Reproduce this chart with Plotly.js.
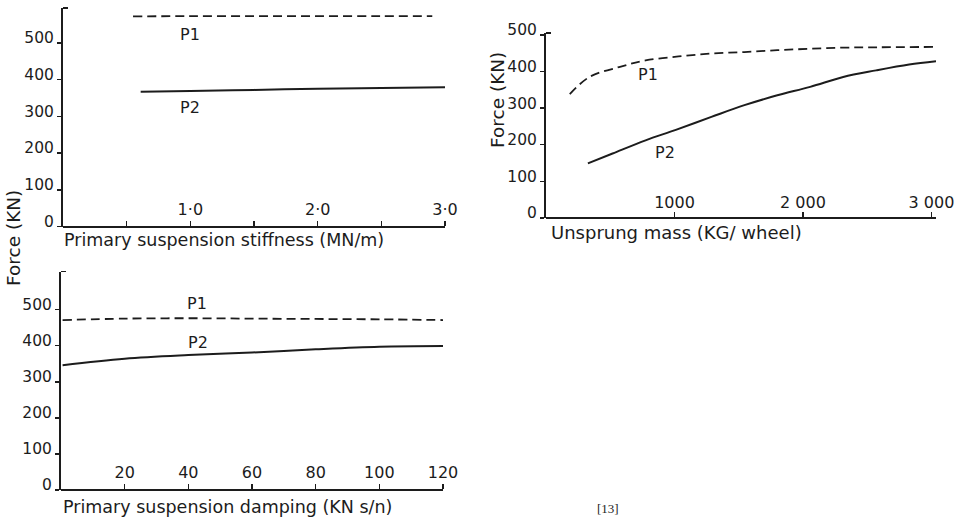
<!DOCTYPE html>
<html>
<head>
<meta charset="utf-8">
<script src="https://cdn.plot.ly/plotly-3.0.1.min.js"></script>
<style>html,body{margin:0;padding:0;background:#fff;}#chart{width:961px;height:519px;}</style>
</head>
<body>
<div id="chart"></div>
<script>
// Panel (a): primary suspension stiffness
const stiffnessP1X = [0.55, 1.0, 1.5, 2.0, 2.5, 2.9];
const stiffnessP1Y = [572, 573, 573, 573, 573, 573];
const stiffnessP2X = [0.61, 1.0, 1.5, 2.0, 2.5, 3.0];
const stiffnessP2Y = [367, 369, 372, 375, 377, 379];
const stiffnessTickVals = [0.5, 1.0, 1.5, 2.0, 2.5, 3.0];
const stiffnessTickText = ['', '1·0', '', '2·0', '', '3·0'];

// Panel (b): unsprung mass
const massP1X = [185, 338, 569, 775, 1031, 1287, 1544, 1800, 2056, 2313, 2569, 3035];
const massP1Y = [338, 385, 412, 430, 441, 449, 453, 458, 462, 465, 466, 467];
const massP2X = [326, 518, 775, 1005, 1287, 1544, 1800, 2056, 2313, 2569, 2826, 3035];
const massP2Y = [149, 176, 212, 240, 276, 308, 335, 358, 385, 403, 419, 428];
const massTickVals = [1000, 2000, 3000];
const massTickText = ['1000', '2 000', '3 000'];

// Panel (c): primary suspension damping
const dampingP1X = [0.5, 20, 40, 60, 80, 100, 120];
const dampingP1Y = [471, 475, 476, 475, 474, 473, 471];
const dampingP2X = [0.5, 20, 40, 60, 80, 100, 120];
const dampingP2Y = [346, 364, 374, 381, 390, 397, 399];
const dampingTickVals = [20, 40, 60, 80, 100, 120];

const forceTickVals = [0, 100, 200, 300, 400, 500];

const W = 961, H = 519;
const FONT = 'DejaVu Sans, sans-serif';
const INK = '#1c1c1c';
const px = v => v / W;
const py = v => 1 - v / H;

const dashed = {color: INK, width: 1.8, dash: '9px,5px', shape: 'spline'};
const solid = {color: INK, width: 2, shape: 'spline'};

const traces = [
  {x: stiffnessP1X, y: stiffnessP1Y, xaxis: 'x', yaxis: 'y', mode: 'lines', line: dashed, name: 'P1'},
  {x: stiffnessP2X, y: stiffnessP2Y, xaxis: 'x', yaxis: 'y', mode: 'lines', line: solid, name: 'P2'},
  {x: massP1X, y: massP1Y, xaxis: 'x2', yaxis: 'y2', mode: 'lines', line: dashed, name: 'P1'},
  {x: massP2X, y: massP2Y, xaxis: 'x2', yaxis: 'y2', mode: 'lines', line: solid, name: 'P2'},
  {x: dampingP1X, y: dampingP1Y, xaxis: 'x3', yaxis: 'y3', mode: 'lines', line: dashed, name: 'P1'},
  {x: dampingP2X, y: dampingP2Y, xaxis: 'x3', yaxis: 'y3', mode: 'lines', line: solid, name: 'P2'}
];

// x axes: line at the bottom of the panel, labels drawn above it (side 'top' on a free axis)
function xax(domain, range, vals, text, bottomPx, standoff) {
  return {
    domain: domain, range: range, anchor: 'free', position: py(bottomPx), side: 'top',
    showline: true, linecolor: INK, linewidth: 2,
    showgrid: false, zeroline: false,
    ticks: 'outside', ticklen: 5, tickwidth: 1.5, tickcolor: INK,
    tickmode: 'array', tickvals: vals, ticktext: text,
    ticklabelstandoff: standoff,
    tickfont: {family: FONT, size: 16, color: INK}
  };
}
function yax(domain, range, anchor) {
  return {
    domain: domain, range: range, anchor: anchor,
    showline: true, linecolor: INK, linewidth: 2,
    showgrid: false, zeroline: false,
    ticks: 'outside', ticklen: 4, tickwidth: 1.5, tickcolor: INK,
    tickmode: 'array', tickvals: forceTickVals,
    ticklabelstandoff: 0,
    ticklabelshift: -5,
    tickfont: {family: FONT, size: 15.5, color: INK},
    minor: {tickmode: 'array', tickvals: [range[1]], ticks: 'inside', ticklen: 5, tickwidth: 1.5, tickcolor: INK, showgrid: false}
  };
}

const ann = (text, x, y, opts) => Object.assign({
  text: text, xref: 'paper', yref: 'paper', x: px(x), y: py(y),
  showarrow: false, xanchor: 'center', yanchor: 'middle',
  font: {family: FONT, size: 16, color: INK}
}, opts || {});
const TITLE_FONT = {family: FONT, size: 17.5, color: INK};

const layout = {
  width: W, height: H,
  margin: {l: 0, r: 0, t: 0, b: 0},
  paper_bgcolor: '#ffffff', plot_bgcolor: 'rgba(0,0,0,0)',
  showlegend: false,
  xaxis: xax([px(63), px(445)], [0, 3.0], stiffnessTickVals, stiffnessTickText, 226.5, -1),
  yaxis: yax([py(226.5), py(8)], [0, 595], 'x'),
  xaxis2: xax([px(546), px(936)], [0, 3035], massTickVals, massTickText, 218, -2),
  yaxis2: yax([py(218), py(33)], [0, 505], 'x2'),
  xaxis3: xax([px(61), px(443)], [0, 120], dampingTickVals, dampingTickVals.map(String), 490, 0),
  yaxis3: yax([py(490), py(271.7)], [0, 605], 'x3'),
  annotations: [
    ann('P1', 190, 34),
    ann('P2', 190, 107),
    ann('P1', 648, 75),
    ann('P2', 665, 152),
    ann('P1', 197, 303),
    ann('P2', 198, 342),
    ann('Primary suspension stiffness (MN/m)', 62, 240, {xanchor: 'left', font: TITLE_FONT}),
    ann('Unsprung mass (KG/ wheel)', 549, 232, {xanchor: 'left', font: {family: FONT, size: 18, color: INK}}),
    ann('Primary suspension damping (KN s/n)', 61, 507, {xanchor: 'left', font: TITLE_FONT}),
    ann('Force (KN)', 14, 238, {textangle: -90, font: {family: FONT, size: 18.5, color: INK}}),
    ann('Force (KN)', 498, 100, {textangle: -90, font: {family: FONT, size: 18.5, color: INK}}),
    ann('[13]', 608, 518, {yanchor: 'bottom', font: {family: 'Liberation Serif, serif', size: 13, color: INK}})
  ]
};

Plotly.newPlot('chart', traces, layout, {staticPlot: true, displayModeBar: false});
</script>
</body>
</html>
